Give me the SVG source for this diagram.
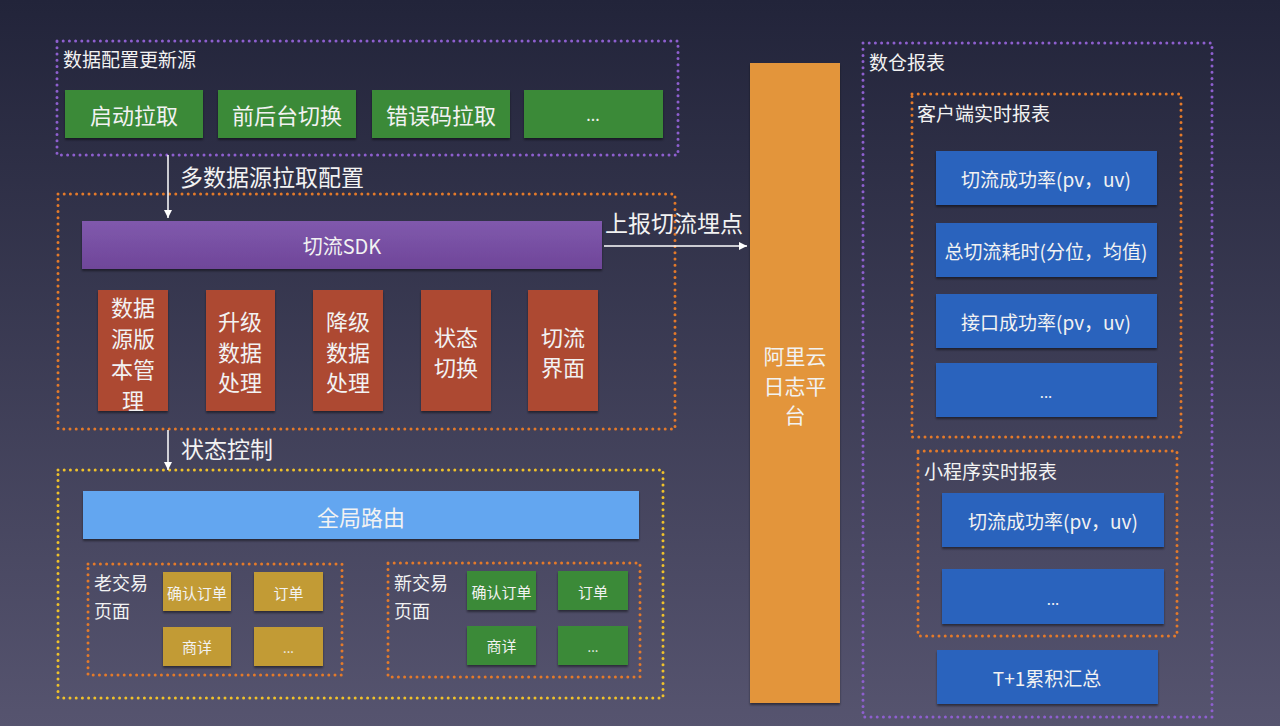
<svg xmlns="http://www.w3.org/2000/svg" width="1280" height="726" viewBox="0 0 1280 726">
<defs>
<linearGradient id="bg" x1="0" y1="0" x2="0" y2="1">
<stop offset="0" stop-color="#22243a"/>
<stop offset="1" stop-color="#56546f"/>
</linearGradient>
<linearGradient id="sdk" x1="0" y1="0" x2="0" y2="1">
<stop offset="0" stop-color="#8059ad"/>
<stop offset="1" stop-color="#6f4699"/>
</linearGradient>
<filter id="sh" x="-5%" y="-10%" width="110%" height="130%">
<feDropShadow dx="0" dy="2" stdDeviation="1" flood-color="#000" flood-opacity="0.45"/>
</filter>
<marker id="ah" viewBox="0 0 10 10" refX="10" refY="5" markerWidth="8" markerHeight="8" markerUnits="userSpaceOnUse" orient="auto">
<path d="M0,0 L10,5 L0,10 z" fill="#ffffff"/>
</marker>
<style>
text{font-family:"Noto Sans CJK SC","Liberation Sans",sans-serif;fill:#f2f2f2;}
.c{text-anchor:middle;dominant-baseline:central;}
.l{dominant-baseline:central;}
.dot{fill:none;stroke-width:3;stroke-linecap:round;stroke-dasharray:0 6.2;}
.pu{stroke:#8e5fcf;}
.or{stroke:#e47a2a;}
.ye{stroke:#f0c22a;}
.green{fill:#3a8a37;filter:url(#sh);}
.red{fill:#ad4831;filter:url(#sh);}
.gold{fill:#c29b36;filter:url(#sh);}
.blue{fill:#2a63bd;filter:url(#sh);}
.conn{stroke:#ffffff;stroke-width:1.5;fill:none;}
</style>
</defs>
<rect width="1280" height="726" fill="url(#bg)"/>

<g id="grp-source">
<rect class="dot pu" x="57" y="41" width="621" height="114"/>
<text class="l" x="63" y="58" font-size="19">数据配置更新源</text>
</g>
<g id="n-start"><rect class="green" x="65" y="90" width="138" height="48"/><text class="c" x="134" y="114" font-size="22">启动拉取</text></g>
<g id="n-fgbg"><rect class="green" x="218" y="90" width="138" height="48"/><text class="c" x="287" y="114" font-size="22">前后台切换</text></g>
<g id="n-err"><rect class="green" x="372" y="90" width="138" height="48"/><text class="c" x="441" y="114" font-size="22">错误码拉取</text></g>
<g id="n-more1"><rect class="green" x="524" y="90" width="139" height="48"/><text class="c" x="593" y="114" font-size="16">...</text></g>

<g id="grp-sdk">
<rect class="dot or" x="58" y="194" width="617" height="235"/>
</g>
<g id="n-sdk"><rect x="82" y="221" width="520" height="48" fill="url(#sdk)" filter="url(#sh)"/><text class="c" x="342" y="245" font-size="20">切流SDK</text></g>
<g id="n-ver"><rect class="red" x="98" y="290" width="70" height="121"/>
<text class="c" x="133" font-size="22"><tspan x="133" y="306">数据</tspan><tspan x="133" y="337">源版</tspan><tspan x="133" y="368">本管</tspan><tspan x="133" y="399">理</tspan></text></g>
<g id="n-up"><rect class="red" x="206" y="290" width="69" height="121"/>
<text class="c" x="240" font-size="22"><tspan x="240" y="320">升级</tspan><tspan x="240" y="351">数据</tspan><tspan x="240" y="381">处理</tspan></text></g>
<g id="n-down"><rect class="red" x="313" y="290" width="70" height="121"/>
<text class="c" x="348" font-size="22"><tspan x="348" y="320">降级</tspan><tspan x="348" y="351">数据</tspan><tspan x="348" y="381">处理</tspan></text></g>
<g id="n-state"><rect class="red" x="421" y="290" width="70" height="121"/>
<text class="c" x="456" font-size="22"><tspan x="456" y="336">状态</tspan><tspan x="456" y="366">切换</tspan></text></g>
<g id="n-ui"><rect class="red" x="528" y="290" width="70" height="121"/>
<text class="c" x="563" font-size="22"><tspan x="563" y="336">切流</tspan><tspan x="563" y="366">界面</tspan></text></g>

<g id="n-aliyun"><rect x="750" y="63" width="90" height="640" fill="#e3953b" filter="url(#sh)"/>
<text class="c" x="795" font-size="21"><tspan x="795" y="355">阿里云</tspan><tspan x="795" y="385">日志平</tspan><tspan x="795" y="414">台</tspan></text></g>

<g id="grp-route">
<rect class="dot ye" x="58" y="470" width="605" height="228"/>
</g>
<g id="n-route"><rect x="83" y="491" width="556" height="48" fill="#63a6f0" filter="url(#sh)"/><text class="c" x="361" y="516" font-size="22">全局路由</text></g>

<g id="grp-old">
<rect class="dot or" x="88" y="564" width="254" height="111"/>
<text class="l" x="94" font-size="18"><tspan x="94" y="582">老交易</tspan><tspan x="94" y="610">页面</tspan></text>
</g>
<g id="n-old-confirm"><rect class="gold" x="163" y="572" width="68" height="39"/><text class="c" x="197" y="592" font-size="15">确认订单</text></g>
<g id="n-old-order"><rect class="gold" x="254" y="572" width="69" height="39"/><text class="c" x="288.5" y="592" font-size="15">订单</text></g>
<g id="n-old-detail"><rect class="gold" x="163" y="627" width="68" height="39"/><text class="c" x="197" y="646" font-size="15">商详</text></g>
<g id="n-old-more"><rect class="gold" x="254" y="627" width="69" height="39"/><text class="c" x="288.5" y="647" font-size="13">...</text></g>

<g id="grp-new">
<rect class="dot or" x="388" y="563" width="252" height="114"/>
<text class="l" x="394" font-size="18"><tspan x="394" y="582">新交易</tspan><tspan x="394" y="610">页面</tspan></text>
</g>
<g id="n-new-confirm"><rect class="green" x="467" y="571" width="69" height="39"/><text class="c" x="501.5" y="591" font-size="15">确认订单</text></g>
<g id="n-new-order"><rect class="green" x="558" y="571" width="70" height="39"/><text class="c" x="593" y="591" font-size="15">订单</text></g>
<g id="n-new-detail"><rect class="green" x="467" y="626" width="69" height="39"/><text class="c" x="501.5" y="645" font-size="15">商详</text></g>
<g id="n-new-more"><rect class="green" x="558" y="626" width="70" height="39"/><text class="c" x="593" y="646" font-size="13">...</text></g>

<g id="grp-dw">
<rect class="dot pu" x="863" y="43" width="349" height="674"/>
<text class="l" x="869" y="61" font-size="19">数仓报表</text>
</g>
<g id="grp-client">
<rect class="dot or" x="912" y="94" width="269" height="343"/>
<text class="l" x="917" y="112" font-size="19">客户端实时报表</text>
</g>
<g id="n-c1"><rect class="blue" x="936" y="151" width="221" height="54"/><text class="c" x="1046" y="178" font-size="19">切流成功率(pv，uv)</text></g>
<g id="n-c2"><rect class="blue" x="936" y="223" width="221" height="54"/><text class="c" x="1046" y="250" font-size="19">总切流耗时(分位，均值)</text></g>
<g id="n-c3"><rect class="blue" x="936" y="294" width="221" height="54"/><text class="c" x="1046" y="321" font-size="19">接口成功率(pv，uv)</text></g>
<g id="n-c4"><rect class="blue" x="936" y="363" width="221" height="54"/><text class="c" x="1046" y="391" font-size="15">...</text></g>
<g id="grp-mini">
<rect class="dot or" x="918" y="451" width="259" height="185"/>
<text class="l" x="924" y="470" font-size="19">小程序实时报表</text>
</g>
<g id="n-m1"><rect class="blue" x="942" y="493" width="222" height="54"/><text class="c" x="1053" y="520" font-size="19">切流成功率(pv，uv)</text></g>
<g id="n-m2"><rect class="blue" x="942" y="569" width="222" height="55"/><text class="c" x="1053" y="598" font-size="15">...</text></g>
<g id="n-t1"><rect class="blue" x="937" y="650" width="221" height="54"/><text class="c" x="1047" y="677" font-size="19">T+1累积汇总</text></g>

<g id="connectors">
<line class="conn" x1="168" y1="155" x2="168" y2="218" marker-end="url(#ah)"/>
<text class="l" x="180" y="176" font-size="23">多数据源拉取配置</text>
<line class="conn" x1="604" y1="246" x2="747" y2="246" marker-end="url(#ah)"/>
<text class="l" x="605" y="222" font-size="23">上报切流埋点</text>
<line class="conn" x1="168" y1="430" x2="168" y2="470" marker-end="url(#ah)"/>
<text class="l" x="181" y="448" font-size="23">状态控制</text>
</g>
</svg>
